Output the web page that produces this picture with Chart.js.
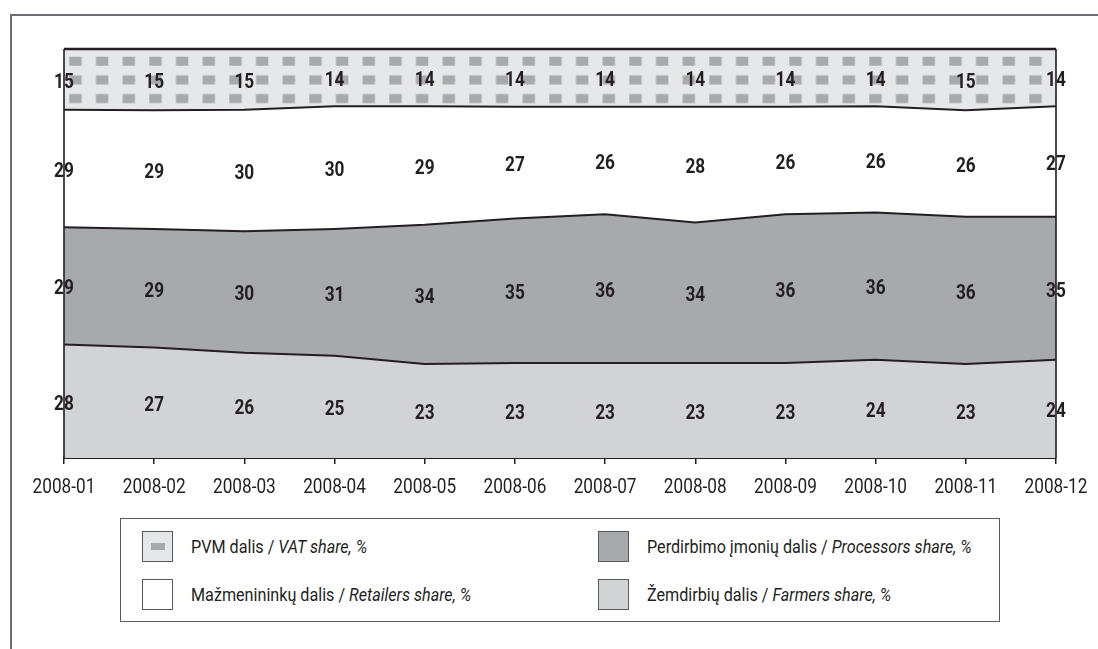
<html>
<head>
<meta charset="utf-8"/>
<title>Kainų struktūra 2008</title>
<script src="https://cdn.jsdelivr.net/npm/chart.js"></script>
<style>
  body { margin: 0; background: #fff; font-family: Roboto, 'Open Sans', sans-serif; color: #231f20; }
  #frame { position: absolute; left: 10px; top: 14px; width: 1200px; height: 700px; border-top: 2px solid #6d6e71; border-left: 2px solid #6d6e71; }
  #wrap { position: absolute; left: 0; top: 0; width: 1098px; height: 649px; }
  #legend { position: absolute; left: 120px; top: 518px; width: 878px; height: 102px; border: 1.5px solid #58595b; background: #fff; }
  .item { position: absolute; height: 31px; display: flex; align-items: center; font-size: 19px; white-space: nowrap; }
  .item span { display: inline-block; transform: scaleX(0.85); transform-origin: left center; }
  .sw { width: 29px; height: 29px; border: 1.5px solid #58595b; margin-right: 18px; position: relative; box-sizing: content-box; }
  .sw.vat::after { content: ""; position: absolute; left: 8px; top: 11px; width: 14px; height: 7px; background: #a7a9ac; }
</style>
</head>
<body>
<div id="frame"></div>
<div id="wrap"><canvas id="chart"></canvas></div>
<div id="legend"></div>
<script>
const months = ['2008-01','2008-02','2008-03','2008-04','2008-05','2008-06','2008-07','2008-08','2008-09','2008-10','2008-11','2008-12'];
const farmers    = [28, 27, 26, 25, 23, 23, 23, 23, 23, 24, 23, 24];
const processors = [29, 29, 30, 31, 34, 35, 36, 34, 36, 36, 36, 35];
const retailers  = [29, 29, 30, 30, 29, 27, 26, 28, 26, 26, 26, 27];
const vat        = [15, 15, 15, 14, 14, 14, 14, 14, 14, 14, 15, 14];

const seriesNames = [
  ['PVM dalis / ', 'VAT share, %'],
  ['Mažmenininkų dalis / ', 'Retailers share, %'],
  ['Perdirbimo įmonių dalis / ', 'Processors share, %'],
  ['Žemdirbių dalis / ', 'Farmers share, %']
];

const FONT = "Roboto, 'Open Sans', sans-serif";
const INK = '#231f20';
const SQUEEZE = 0.82; // no condensed face installed, so squeeze text by hand

// totals per month, chart is drawn as 100% stacked
const totals = months.map((m, i) => farmers[i] + processors[i] + retailers[i] + vat[i]);
const share = arr => arr.map((v, i) => v / totals[i] * 100);

// dotted fill for the VAT band
function vatPattern() {
  const c = document.createElement('canvas');
  c.width = 80; c.height = 56;
  const g = c.getContext('2d');
  g.fillStyle = '#e6e7e8';
  g.fillRect(0, 0, 80, 56);
  g.fillStyle = '#a7a9ac';
  for (let r = 0; r < 3; r++) {
    for (let k = 0; k < 3; k++) {
      g.fillRect(k * 80 / 3, r * 56 / 3, 12.3, 9);
    }
  }
  const p = document.getElementById('chart').getContext('2d').createPattern(c, 'repeat');
  p.setTransform(new DOMMatrix().translate(69.3, 56.7));
  return p;
}

const rawSeries = [farmers, processors, retailers, vat];

function squeezedText(ctx, txt, x, y) {
  ctx.save();
  ctx.translate(x, y);
  ctx.scale(SQUEEZE, 1);
  ctx.fillText(txt, 0, 0);
  ctx.restore();
}

const valueLabels = {
  id: 'valueLabels',
  afterDatasetsDraw(chart) {
    const ctx = chart.ctx;
    const bottom = chart.scales.y.getPixelForValue(0);
    ctx.save();
    ctx.fillStyle = INK;
    ctx.textAlign = 'center';
    ctx.textBaseline = 'middle';
    ctx.font = 'bold 21px ' + FONT;
    chart.data.datasets.forEach((ds, i) => {
      const meta = chart.getDatasetMeta(i);
      const prev = i > 0 ? chart.getDatasetMeta(i - 1) : null;
      meta.data.forEach((pt, j) => {
        const lo = prev ? prev.data[j].y : bottom;
        squeezedText(ctx, String(rawSeries[i][j]), pt.x, (pt.y + lo) / 2 + 3);
      });
    });
    // category labels under the axis
    const xs = chart.scales.x;
    ctx.font = '21px ' + FONT;
    months.forEach((m, i) => {
      squeezedText(ctx, m, xs.getPixelForTick(i), xs.top + 30);
    });
    // plot side borders
    const a = chart.chartArea;
    ctx.strokeStyle = INK;
    ctx.lineWidth = 1.6;
    ctx.beginPath();
    ctx.moveTo(a.left, a.top); ctx.lineTo(a.left, a.bottom);
    ctx.moveTo(a.right, a.top); ctx.lineTo(a.right, a.bottom);
    ctx.stroke();
    ctx.restore();
  }
};

const base = { pointRadius: 0, tension: 0, borderColor: INK, borderWidth: 2, clip: 4 };

new Chart(document.getElementById('chart'), {
  type: 'line',
  data: {
    labels: months,
    datasets: [
      Object.assign({ label: 'Farmers', data: share(farmers), backgroundColor: '#d1d3d4', fill: 'origin' }, base),
      Object.assign({ label: 'Processors', data: share(processors), backgroundColor: '#a7a9ac', fill: '-1' }, base),
      Object.assign({ label: 'Retailers', data: share(retailers), backgroundColor: '#ffffff', fill: '-1' }, base),
      Object.assign({ label: 'VAT', data: share(vat), backgroundColor: vatPattern(), fill: '-1' }, base, { borderWidth: 2.5 })
    ]
  },
  options: {
    responsive: true,
    maintainAspectRatio: false,
    animation: false,
    layout: { padding: { left: 64, right: 42, top: 49, bottom: 141 } },
    plugins: { legend: { display: false }, tooltip: { enabled: false } },
    scales: {
      x: {
        grid: { drawOnChartArea: false, color: INK, tickLength: 6, lineWidth: 1.5 },
        border: { color: INK, width: 2 },
        ticks: { display: false, autoSkip: false },
        afterFit(scale) { scale.height = 50; }
      },
      y: { display: false, stacked: true, min: 0, max: 100 }
    }
  },
  plugins: [valueLabels]
});

// legend: two columns, VAT and Retailers left, Processors and Farmers right
const legend = document.getElementById('legend');
const places = [[21, 12], [21, 60], [477, 12], [477, 60]];
const swatch = ['vat', '', '', ''];
const swatchFill = ['#e6e7e8', '#ffffff', '#a7a9ac', '#d1d3d4'];
seriesNames.forEach((n, i) => {
  const d = document.createElement('div');
  d.className = 'item';
  d.style.left = places[i][0] + 'px';
  d.style.top = places[i][1] + 'px';
  d.innerHTML = `<div class="sw ${swatch[i]}" style="background:${swatchFill[i]}"></div><span>${n[0]}<i>${n[1]}</i></span>`;
  legend.appendChild(d);
});
</script>
</body>
</html>
